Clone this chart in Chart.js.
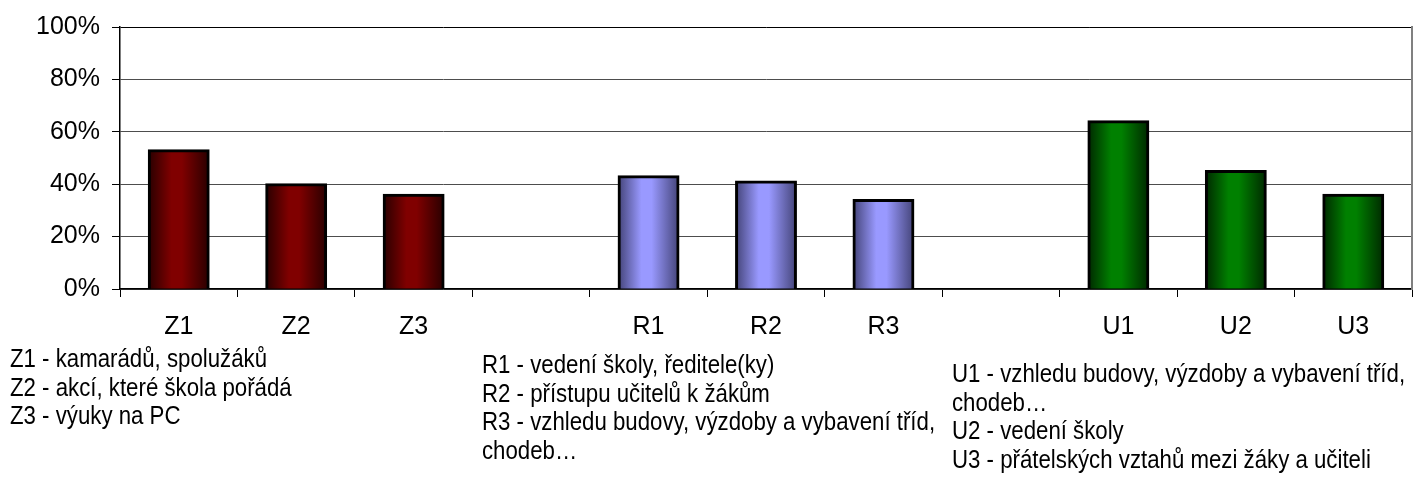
<!DOCTYPE html>
<html>
<head>
<meta charset="utf-8">
<script src="https://cdn.jsdelivr.net/npm/chart.js@4"></script>
<style>
  html, body { margin:0; padding:0; background:#fff; }
  #wrap { position:relative; width:1415px; height:483px; }
  .notes { position:absolute; font-family:"Liberation Sans", Arial, sans-serif; font-size:26px; line-height:28.6px;
           color:#000; white-space:nowrap; transform:scaleX(0.855); transform-origin:0 0; }
</style>
</head>
<body>
<div id="wrap">
  <canvas id="chart"></canvas>
  <div class="notes" id="notes-z" style="left:10px; top:344px;"></div>
  <div class="notes" id="notes-r" style="left:482px; top:350px;"></div>
  <div class="notes" id="notes-u" style="left:952px; top:359px;"></div>
</div>
<script>
// categories (empty slots separate the three groups)
const categories = ['Z1','Z2','Z3','','R1','R2','R3','','U1','U2','U3'];
const percentages = [53, 40, 36, null, 43, 41, 34, null, 64, 45, 36];
const yTicks = [0, 20, 40, 60, 80, 100];

const notesZ = ['Z1 - kamarádů, spolužáků', 'Z2 - akcí, které škola pořádá', 'Z3 - výuky na PC'];
const notesR = ['R1 - vedení školy, ředitele(ky)', 'R2 - přístupu učitelů k žákům',
                'R3 - vzhledu budovy, výzdoby a vybavení tříd,', 'chodeb…'];
const notesU = ['U1 - vzhledu budovy, výzdoby a vybavení tříd,', 'chodeb…',
                'U2 - vedení školy', 'U3 - přátelských vztahů mezi žáky a učiteli'];

// colours per group letter: [edge, centre]
const groupColors = {
  Z: ['#2a0000', '#800000'],
  R: ['#45457a', '#9999ff'],
  U: ['#002a00', '#008000']
};
const barPct = 0.51;

document.getElementById('notes-z').innerHTML = notesZ.map(t => `<div>${t}</div>`).join('');
document.getElementById('notes-r').innerHTML = notesR.map(t => `<div>${t}</div>`).join('');
document.getElementById('notes-u').innerHTML = notesU.map(t => `<div>${t}</div>`).join('');

function barFill(c) {
  const cols = groupColors[(categories[c.dataIndex] || 'Z')[0]];
  const xs = c.chart.scales && c.chart.scales.x;
  if (!xs || !xs.width) return cols[1];
  const cx = xs.getPixelForValue(c.dataIndex);
  const half = xs.width / categories.length * barPct / 2;
  const g = c.chart.ctx.createLinearGradient(cx - half, 0, cx + half, 0);
  g.addColorStop(0, cols[0]);
  g.addColorStop(0.38, cols[1]);
  g.addColorStop(0.55, cols[1]);
  g.addColorStop(1, cols[0]);
  return g;
}

const ctx = document.getElementById('chart').getContext('2d');
new Chart(ctx, {
  type: 'bar',
  data: {
    labels: categories,
    datasets: [{
      data: percentages,
      backgroundColor: barFill,
      borderColor: '#000',
      borderWidth: 3,
      borderSkipped: 'bottom',
      inflateAmount: 1,
      barPercentage: barPct,
      categoryPercentage: 1
    }]
  },
  options: {
    responsive: true,
    maintainAspectRatio: false,
    animation: false,
    layout: { padding: { top: 26, right: 0, left: 0, bottom: 0 } },
    plugins: { legend: { display: false }, tooltip: { enabled: false } },
    scales: {
      x: {
        afterFit: s => { s.height = 194; },
        grid: { drawOnChartArea: false, drawTicks: true, tickLength: 8, tickColor: '#000', offset: true },
        border: { color: '#000', width: 1.5 },
        ticks: { color: '#000', padding: 15, font: { family: 'Liberation Sans, Arial', size: 25 } }
      },
      y: {
        min: 0, max: 100,
        afterFit: s => { s.width = 120; },
        afterBuildTicks: s => { s.ticks = yTicks.map(v => ({ value: v })); },
        grid: {
          color: c => (c.tick && c.tick.value === 100) ? '#000' : '#4d4d4d',
          lineWidth: 1, tickLength: 8, tickColor: '#000'
        },
        border: { color: '#000', width: 1.5 },
        ticks: { color: '#000', padding: 12, callback: v => v + '%',
                 font: { family: 'Liberation Sans, Arial', size: 25 } }
      },
      yRight: {
        position: 'right', min: 0, max: 100,
        afterFit: s => { s.width = 3; },
        grid: { drawOnChartArea: false, drawTicks: false },
        border: { color: '#808080', width: 2 },
        ticks: { display: false }
      }
    }
  }
});
</script>
</body>
</html>
